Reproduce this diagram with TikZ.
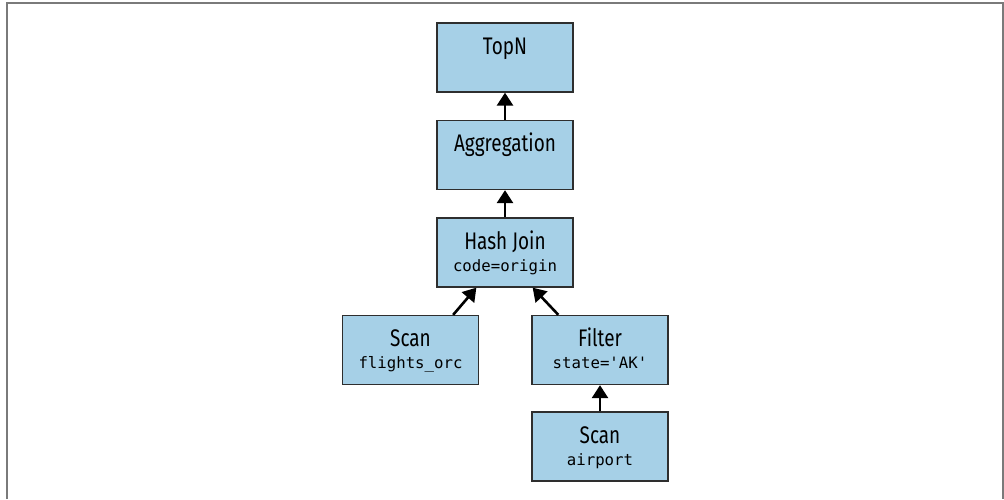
\documentclass[tikz,border=0pt]{standalone}
\usepackage{fontspec}
\setsansfont{Fira Sans}[FakeStretch=0.79]
\setmonofont{DejaVu Sans Mono}
\usetikzlibrary{arrows.meta}
\definecolor{boxfill}{HTML}{A6D0E7}
\definecolor{boxline}{HTML}{2E2E2E}
\definecolor{framec}{HTML}{7A7A7A}
\tikzset{
  opbox/.style={draw=boxline, line width=1.3pt, fill=boxfill, rectangle, inner sep=0pt,
    minimum width=136pt, minimum height=69pt},
  optitle/.style={anchor=base, inner sep=0pt, font=\sffamily\fontsize{24}{24}\selectfont},
  opsub/.style={anchor=base, inner sep=0pt, font=\ttfamily\fontsize{15.7}{15.7}\selectfont},
  flow/.style={-{Triangle[width=16pt,length=13pt]}, line width=2.6pt, black},
  frameline/.style={draw=framec, line width=2pt}
}
\begin{document}
\begin{tikzpicture}[x=1pt,y=1pt]
\useasboundingbox (0,0) rectangle (1004,-499);
\coordinate (fbl) at (6.5,-499);
\coordinate (ftl) at (6.5,-3);
\coordinate (ftr) at (1003,-3);
\coordinate (fbr) at (1003,-499);
\draw[frameline] (fbl) -- (ftl) -- (ftr) -- (fbr);
% boxes
\node[opbox] (topn) at (505,-57.5) {};
\node[opbox] (agg) at (505,-155) {};
\node[opbox] (hj) at (505,-252.5) {};
\node[opbox] (scanf) at (410.5,-350) {};
\node[opbox] (filt) at (600,-350) {};
\node[opbox] (scana) at (600,-446.5) {};
% labels
\node[optitle] (topnt) at ([yshift=-32pt]topn.north) {TopN};
\node[optitle] (aggt) at ([yshift=-32pt]agg.north) {Aggregation};
\node[optitle] (hjt) at ([yshift=-32pt]hj.north) {Hash Join};
\node[opsub] (hjs) at ([yshift=-54pt]hj.north) {code=origin};
\node[optitle] (scanft) at ([yshift=-32pt]scanf.north) {Scan};
\node[opsub] (scanfs) at ([yshift=-54pt]scanf.north) {flights\_orc};
\node[optitle] (filtt) at ([yshift=-32pt]filt.north) {Filter};
\node[opsub] (filts) at ([yshift=-54pt]filt.north) {state='AK'};
\node[optitle] (scanat) at ([yshift=-32pt]scana.north) {Scan};
\node[opsub] (scanas) at ([yshift=-54pt]scana.north) {airport};
% arrows
\draw[flow] (agg.north) -- (topn.south);
\draw[flow] (hj.north) -- (agg.south);
\draw[flow] ([xshift=-26pt]scanf.north east) -- ([xshift=40pt]hj.south west);
\draw[flow] ([xshift=27pt]filt.north west) -- ([xshift=-41pt]hj.south east);
\draw[flow] (scana.north) -- (filt.south);
\end{tikzpicture}
\end{document}
